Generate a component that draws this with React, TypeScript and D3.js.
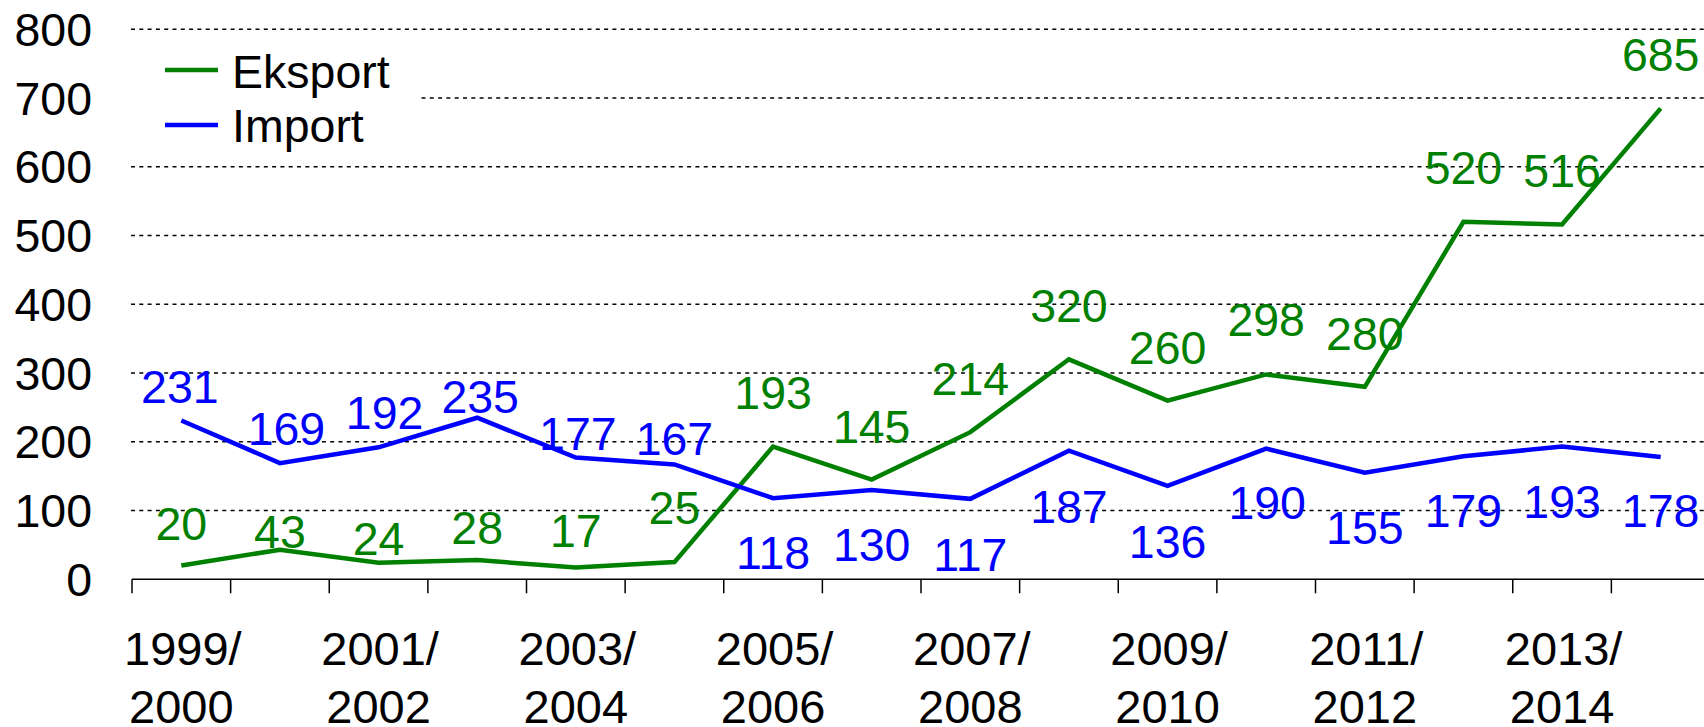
import React from "react";
import * as d3 from "d3";

const categories = [
  "1999/2000", "2000/2001", "2001/2002", "2002/2003", "2003/2004", "2004/2005",
  "2005/2006", "2006/2007", "2007/2008", "2008/2009", "2009/2010", "2010/2011",
  "2011/2012", "2012/2013", "2013/2014", "2014/2015",
];
const eksport = [20, 43, 24, 28, 17, 25, 193, 145, 214, 320, 260, 298, 280, 520, 516, 685];
const importVals = [231, 169, 192, 235, 177, 167, 118, 130, 117, 187, 136, 190, 155, 179, 193, 178];
const yTicks = [0, 100, 200, 300, 400, 500, 600, 700, 800];
const seriesNames = ["Eksport", "Import"];

// label layout (baseline offset from point, px)
const eksportLabelDy = [-25.6, -1.5, -7.8, -16, -21, -38, -38, -37, -37, -37.5, -37, -38, -37, -37.5, -37.3, -37.7];
const importLabelDy = [-17, -18, -18, -4.4, -8, -9.5, 71, 71, 72.5, 72.5, 72.5, 70.6, 71.3, 71, 71, 70.4];
const importLabelDx = [-1.5, 6.5, 6, 3, 2, 0, 0, 0, 0, 0, 0, 1, 0, 0, 0, 0];

const W = 1704;
const H = 727;
const FONT = "'Liberation Sans', Arial, sans-serif";
const GREEN = "#008000";
const BLUE = "#0000FF";

export default function App() {
  const x = d3.scaleBand<string>().domain(categories).range([132, 1710]).padding(0);
  const y = d3.scaleLinear().domain([0, 800]).range([579.3, 29.3]);
  const bw = x.bandwidth();
  const cx = (c: string) => (x(c) as number) + bw / 2;

  const line = d3
    .line<number>()
    .x((_, i) => cx(categories[i]))
    .y((d) => y(d));

  const boundaries = d3.range(categories.length + 1).map((i) => 132 + i * bw);

  return (
    <svg
      width={W}
      height={H}
      style={{ position: "absolute", left: 0, top: 0, background: "#fff" }}
      fontFamily={FONT}
    >
      <rect x={0} y={0} width={W} height={H} fill="#fff" />
      {/* gridlines */}
      {yTicks
        .filter((t) => t > 0)
        .map((t) => (
          <line
            key={"g" + t}
            x1={131}
            x2={W}
            y1={y(t)}
            y2={y(t)}
            stroke="#000"
            strokeWidth={1.4}
            strokeDasharray="4 4.3"
          />
        ))}
      {/* y tick labels */}
      {yTicks.map((t) => (
        <text key={"yt" + t} x={92} y={y(t) + 16.5} textAnchor="end" fontSize={46.5} fill="#000">
          {t}
        </text>
      ))}
      {/* x axis */}
      <line x1={132} x2={W} y1={y(0)} y2={y(0)} stroke="#000" strokeWidth={1.5} />
      {boundaries.map((b, i) => (
        <line key={"tk" + i} x1={b} x2={b} y1={y(0)} y2={y(0) + 14} stroke="#000" strokeWidth={1.5} />
      ))}
      {categories.map((c, i) =>
        i % 2 === 0 ? (
          <text key={"xl" + c} x={cx(c)} textAnchor="middle" fontSize={47} fill="#000">
            <tspan x={cx(c) + 1.5} y={665}>
              {c.split("/")[0] + "/"}
            </tspan>
            <tspan x={cx(c)} y={723.3}>
              {c.split("/")[1]}
            </tspan>
          </text>
        ) : null
      )}
      {/* lines */}
      <path d={line(eksport) || ""} fill="none" stroke={GREEN} strokeWidth={4.5} strokeLinejoin="miter" />
      <path d={line(importVals) || ""} fill="none" stroke={BLUE} strokeWidth={4.5} strokeLinejoin="miter" />
      {/* data labels */}
      {eksport.map((v, i) => (
        <text
          key={"el" + i}
          x={cx(categories[i])}
          y={y(v) + eksportLabelDy[i]}
          textAnchor="middle"
          fontSize={46.5}
          fill={GREEN}
        >
          {v}
        </text>
      ))}
      {importVals.map((v, i) => (
        <text
          key={"il" + i}
          x={cx(categories[i]) + importLabelDx[i]}
          y={y(v) + importLabelDy[i]}
          textAnchor="middle"
          fontSize={46.5}
          fill={BLUE}
        >
          {v}
        </text>
      ))}
      {/* legend */}
      <rect x={131} y={40} width={287} height={115} fill="#fff" />
      <line x1={165} x2={218} y1={70} y2={70} stroke={GREEN} strokeWidth={4.5} />
      <text x={232} y={88} fontSize={46.5} fill="#000">
        {seriesNames[0]}
      </text>
      <line x1={165} x2={218} y1={125} y2={125} stroke={BLUE} strokeWidth={4.5} />
      <text x={232} y={142} fontSize={46.5} fill="#000">
        {seriesNames[1]}
      </text>
    </svg>
  );
}
